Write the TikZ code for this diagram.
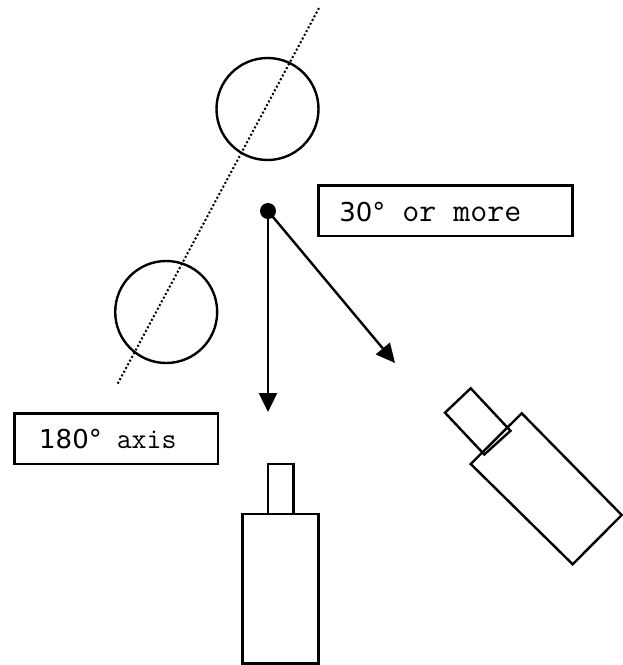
\documentclass[tikz,border=0pt]{standalone}
\usepackage{fontspec}
\usetikzlibrary{arrows.meta}
\newfontfamily\dvsans{DejaVu Sans}
\newfontfamily\lmmono{Latin Modern Mono}
\begin{document}
\begin{tikzpicture}[x=1pt,y=-1pt,
  outline/.style={draw=black, line width=2.4pt},
  ring/.style={outline, circle, minimum size=102pt, inner sep=0pt},
  labelbox/.style={outline, rectangle, inner sep=0pt, minimum height=50.5pt},
  pivot/.style={circle, fill=black, minimum size=16pt, inner sep=0pt},
  arrowline/.style={draw=black, line width=2.4pt, -{Triangle[length=19pt,width=18pt]}},
  axisline/.style={draw=black, line width=2pt, dash pattern=on 2pt off 2.2pt},
  txt/.style={anchor=base west, inner sep=0pt}]
\useasboundingbox (0,0) rectangle (623,665);

% axis line and balls
\coordinate (axtop) at (319,8);
\coordinate (axbot) at (117,385);
\draw[axisline] (axtop) -- (axbot);
\node[ring] (ball1) at (267.5,109) {};
\node[ring] (ball2) at (166.2,312) {};

% pivot and arrows
\node[pivot] (piv) at (268,211) {};
\coordinate (tipdown) at (268,412);
\coordinate (tipdiag) at (395,363);
\draw[arrowline] (piv.center) -- (tipdown);
\draw[arrowline] (piv.center) -- (tipdiag);

% label boxes
\node[labelbox, minimum width=254pt] (box30) at (445.3,210.9) {};
\node[txt] (t30) at (339.2,221.5) {{\dvsans\fontsize{26}{30}\selectfont 30°}{\lmmono\fontsize{33}{36}\selectfont\ or more}};
\node[labelbox, minimum width=203.4pt] (box180) at (116,438.8) {};
\node[txt] (t180) at (39,448.7) {{\dvsans\fontsize{26}{30}\selectfont 180°}{\lmmono\fontsize{29}{32}\selectfont\ axis}};

% straight camera
\draw[outline] (267.7,464) rectangle (293.3,514);
\draw[outline] (242.3,514) rectangle (318.3,663.5);

% rotated camera
\draw[outline, line join=miter] (521.7,413.3) -- (621.7,515) -- (572.7,564.3) -- (470.7,464) -- cycle;
\draw[outline, line join=miter] (470.7,388.3) -- (510.5,430.8) -- (484.3,454.5) -- (445,412.7) -- cycle;
\end{tikzpicture}
\end{document}
